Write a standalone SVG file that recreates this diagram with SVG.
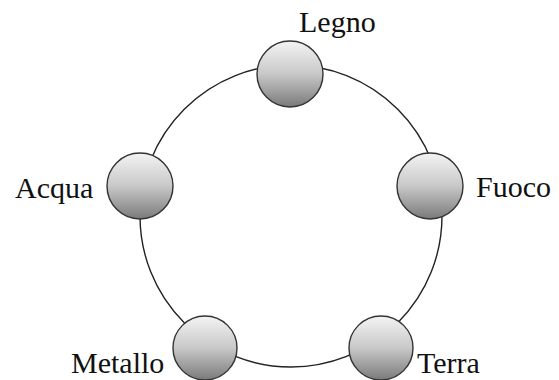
<svg xmlns="http://www.w3.org/2000/svg" width="559" height="380" viewBox="0 0 559 380">
<style>
.ring{fill:none;stroke:#222;stroke-width:1.4}
.node{fill:url(#g);stroke:#333;stroke-width:1.4}
.lbl{font-family:"Liberation Serif","Times New Roman",serif;font-size:30px;fill:#111}
</style>
<defs>
<linearGradient id="g" x1="0" y1="0" x2="0" y2="1">
<stop offset="0" stop-color="#f4f4f4"/>
<stop offset="0.5" stop-color="#c8c8c8"/>
<stop offset="1" stop-color="#7a7a7a"/>
</linearGradient>
</defs>
<rect width="559" height="380" fill="#fff"/>
<g id="connectors">
<circle class="ring" cx="291" cy="216" r="151"/>
</g>
<g id="legno"><circle class="node" cx="290" cy="74" r="33"/><text class="lbl" x="299" y="32">Legno</text></g>
<g id="fuoco"><circle class="node" cx="430" cy="186" r="33"/><text class="lbl" x="476" y="197">Fuoco</text></g>
<g id="acqua"><circle class="node" cx="140" cy="186" r="33"/><text class="lbl" x="15" y="198">Acqua</text></g>
<g id="metallo"><circle class="node" cx="205" cy="348" r="32"/><text class="lbl" x="71" y="373">Metallo</text></g>
<g id="terra"><circle class="node" cx="381" cy="348" r="32"/><text class="lbl" x="417" y="373">Terra</text></g>
</svg>
